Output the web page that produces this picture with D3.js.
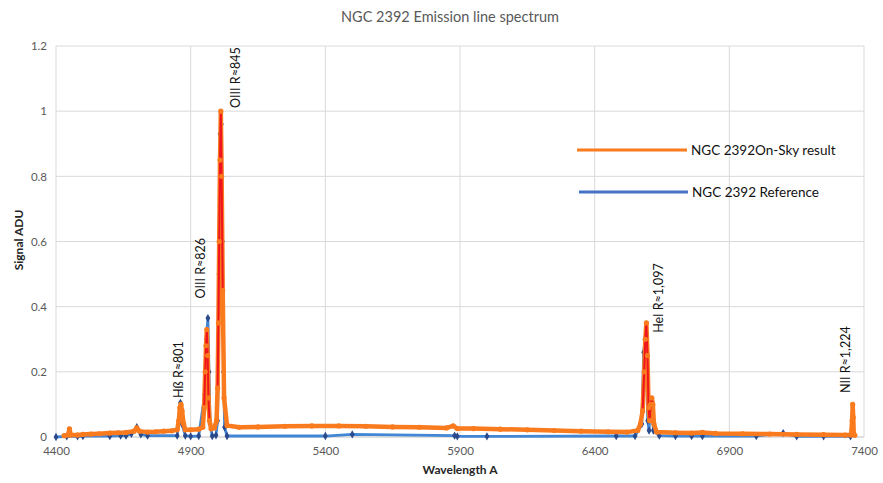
<!DOCTYPE html>
<html>
<head>
<meta charset="utf-8">
<script src="https://cdn.jsdelivr.net/npm/d3@7"></script>
<style>
  body { margin: 0; background: #fff; }
  text { font-family: Lato, "Open Sans", sans-serif; }
</style>
</head>
<body>
<div id="root"></div>
<script>
const WIDTH = 883;
const HEIGHT = 483;
const MARGIN = {top: 46, right: 19, bottom: 46, left: 56};

// On-sky result (orange)
const skyWave = [4430, 4445, 4450, 4455, 4480, 4500, 4530, 4560, 4600, 4630, 4660, 4690, 4700, 4710, 4740, 4770, 4800, 4830, 4850,
  4856, 4860, 4864, 4868, 4874, 4880, 4900, 4930, 4945, 4950, 4954, 4957, 4960, 4963, 4966, 4970, 4976, 4988, 4996, 5000, 5003,
  5006, 5009, 5012, 5015, 5019, 5024, 5035, 5080, 5150, 5250, 5350, 5450, 5550, 5650, 5750, 5850, 5875, 5890, 5950, 6050, 6150,
  6250, 6350, 6450, 6520, 6560, 6570, 6578, 6584, 6588, 6592, 6596, 6600, 6604, 6608, 6612, 6616, 6620, 6630, 6700, 6760, 6800,
  6850, 6950, 7050, 7150, 7250, 7330, 7352, 7356, 7358, 7360, 7362, 7366];
const skySignal = [0.004, 0.006, 0.025, 0.006, 0.006, 0.008, 0.009, 0.010, 0.012, 0.013, 0.014, 0.018, 0.028, 0.018, 0.015, 0.016, 0.018, 0.019, 0.022,
  0.05, 0.09, 0.1, 0.08, 0.04, 0.022, 0.022, 0.024, 0.03, 0.09, 0.2, 0.28, 0.33, 0.25, 0.12, 0.05, 0.025, 0.028, 0.05, 0.15, 0.35,
  0.6, 0.85, 1.0, 0.8, 0.45, 0.12, 0.035, 0.03, 0.031, 0.033, 0.034, 0.034, 0.033, 0.031, 0.03, 0.028, 0.034, 0.026, 0.026, 0.024, 0.022,
  0.02, 0.018, 0.016, 0.015, 0.02, 0.04, 0.08, 0.2, 0.3, 0.35, 0.25, 0.09, 0.05, 0.1, 0.12, 0.1, 0.04, 0.015, 0.013, 0.012, 0.014,
  0.011, 0.01, 0.009, 0.008, 0.007, 0.006, 0.006, 0.05, 0.1, 0.06, 0.01, 0.005];

// Reference (blue)
const refWave = [4400, 4440, 4480, 4500, 4600, 4640, 4660, 4680, 4700, 4715, 4740, 4850, 4856, 4862, 4868, 4880, 4900, 4930,
  4952, 4958, 4964, 4968, 4972, 4980, 4994, 5000, 5005, 5009, 5014, 5018, 5022, 5026, 5035, 5400, 5500, 5880, 5890, 6000,
  6480, 6550, 6575, 6582, 6587, 6592, 6597, 6602, 6607, 6612, 6618, 6640, 6700, 6760, 6800, 7000, 7100, 7150, 7250, 7350];
const refSignal = [0.0, 0.002, 0.002, 0.003, 0.003, 0.004, 0.004, 0.01, 0.03, 0.008, 0.004, 0.004, 0.05, 0.105, 0.04, 0.004, 0.002, 0.003,
  0.13, 0.3, 0.365, 0.2, 0.04, 0.003, 0.005, 0.05, 0.5, 0.93, 0.96, 0.6, 0.2, 0.03, 0.003, 0.003, 0.008, 0.004, 0.002, 0.002,
  0.003, 0.003, 0.04, 0.26, 0.3, 0.22, 0.05, 0.02, 0.1, 0.11, 0.02, 0.004, 0.003, 0.003, 0.003, 0.003, 0.012, 0.002, 0.002, 0.002];

// wavelength windows where the on-sky trace is drawn red
const redWindows = [[4948, 4972], [4998, 5022], [6576, 6616]];

const xTicks = [4400, 4900, 5400, 5900, 6400, 6900, 7400];
const yTicks = [0, 0.2, 0.4, 0.6, 0.8, 1, 1.2];

const lineLabels = [
  {text: "Hß R≈801", wave: 4858, signal: 0.12},
  {text: "OIII R≈826", wave: 4940, signal: 0.425},
  {text: "OIII R≈845", wave: 5070, signal: 1.01},
  {text: "HeI R≈1,097", wave: 6640, signal: 0.32},
  {text: "NII R≈1,224", wave: 7335, signal: 0.135}
];

const seriesNames = ["NGC 2392On-Sky result", "NGC 2392 Reference"];

const skyData = skyWave.map((w, i) => ({w, v: skySignal[i]}));
const refData = refWave.map((w, i) => ({w, v: refSignal[i]}));

const xScale = d3.scaleLinear()
    .domain([4400, 7400])
    .range([MARGIN.left, WIDTH - MARGIN.right]);

const yScale = d3.scaleLinear()
    .domain([0, 1.2])
    .range([HEIGHT - MARGIN.bottom, MARGIN.top]);

const svg = d3.select("#root")
    .append("svg")
    .attr("width", WIDTH)
    .attr("height", HEIGHT);

// title
svg.append("text")
    .attr("x", 450)
    .attr("y", 22)
    .attr("text-anchor", "middle")
    .attr("fill", "#595959")
    .style("font-size", "14.5px")
    .text("NGC 2392 Emission line spectrum");

// grid
const grid = svg.append("g");
grid.selectAll(".hgrid")
    .data(yTicks)
    .enter().append("line")
    .attr("x1", MARGIN.left)
    .attr("x2", WIDTH - MARGIN.right)
    .attr("y1", d => yScale(d))
    .attr("y2", d => yScale(d))
    .attr("stroke", d => d === 0 ? "#BFBFBF" : "#D9D9D9");
grid.selectAll(".vgrid")
    .data(xTicks)
    .enter().append("line")
    .attr("x1", d => xScale(d))
    .attr("x2", d => xScale(d))
    .attr("y1", yScale(1.2))
    .attr("y2", yScale(0))
    .attr("stroke", "#D9D9D9");

// axes
const xAxis = d3.axisBottom(xScale).tickValues(xTicks).tickSize(0).tickPadding(10).tickFormat(d3.format("d"));
svg.append("g")
    .attr("transform", `translate(0, ${yScale(0)})`)
    .call(xAxis)
    .call(g => g.select(".domain").remove())
    .selectAll("text")
    .attr("fill", "#595959")
    .style("font-family", "Lato, sans-serif")
    .style("font-size", "11.5px");

const yAxis = d3.axisLeft(yScale).tickValues(yTicks).tickSize(0).tickPadding(9).tickFormat(d => String(d));
svg.append("g")
    .attr("transform", `translate(${MARGIN.left}, 0)`)
    .call(yAxis)
    .call(g => g.select(".domain").remove())
    .selectAll("text")
    .attr("fill", "#595959")
    .style("font-family", "Lato, sans-serif")
    .style("font-size", "11.5px");

// axis titles
svg.append("text")
    .attr("x", 460)
    .attr("y", 474)
    .attr("text-anchor", "middle")
    .attr("font-weight", "bold")
    .attr("fill", "#262626")
    .style("font-size", "12px")
    .text("Wavelength A");

svg.append("text")
    .attr("transform", "translate(23, 240) rotate(-90)")
    .attr("text-anchor", "middle")
    .attr("font-weight", "bold")
    .attr("fill", "#262626")
    .style("font-size", "12px")
    .text("Signal ADU");

// series
const line = d3.line()
    .x(d => xScale(d.w))
    .y(d => yScale(d.v));

const ORANGE = "#FA7A1E";
const BLUE = "#4287D6";
const NAVY = "#2A4A8C";

// reference
svg.append("path")
    .datum(refData)
    .attr("fill", "none")
    .attr("stroke", BLUE)
    .attr("stroke-width", 2.8)
    .attr("stroke-linejoin", "round")
    .attr("d", line);

svg.selectAll(".diamond")
    .data(refData)
    .enter().append("path")
    .attr("class", "diamond")
    .attr("transform", d => `translate(${xScale(d.w)}, ${yScale(d.v)})`)
    .attr("d", d3.symbol().type(d3.symbolDiamond).size(20))
    .attr("fill", NAVY);

// on-sky
svg.append("path")
    .datum(skyData)
    .attr("fill", "none")
    .attr("stroke", ORANGE)
    .attr("stroke-width", 4.5)
    .attr("stroke-linejoin", "round")
    .attr("d", line);

const inRed = d => redWindows.some(r => d.w >= r[0] && d.w <= r[1]);
svg.append("path")
    .datum(skyData)
    .attr("fill", "none")
    .attr("stroke", "#F0141E")
    .attr("stroke-width", 2)
    .attr("d", d3.line().x(d => xScale(d.w)).y(d => yScale(d.v)).defined(inRed));

svg.selectAll(".dot")
    .data(skyData)
    .enter().append("circle")
    .attr("class", "dot")
    .attr("cx", d => xScale(d.w))
    .attr("cy", d => yScale(d.v))
    .attr("r", 2.6)
    .attr("fill", ORANGE);

// line labels
svg.selectAll(".lbl")
    .data(lineLabels)
    .enter().append("text")
    .attr("class", "lbl")
    .attr("transform", d => `translate(${xScale(d.wave) + 4}, ${yScale(d.signal)}) rotate(-90)`)
    .attr("fill", "#111")
    .style("font-size", "12.5px")
    .text(d => d.text);

// legend
const legend = svg.append("g");
const legendRows = [{name: seriesNames[0], color: ORANGE, y: 150, x1: 577, x2: 687},
                    {name: seriesNames[1], color: "#4472C4", y: 192, x1: 579, x2: 688}];
legendRows.forEach(r => {
    legend.append("line")
        .attr("x1", r.x1).attr("x2", r.x2)
        .attr("y1", r.y).attr("y2", r.y)
        .attr("stroke", r.color)
        .attr("stroke-width", 3);
    legend.append("text")
        .attr("x", r.x2 + 4)
        .attr("y", r.y + 5)
        .attr("fill", "#111")
        .style("font-size", "13.5px")
        .text(r.name);
});
</script>
</body>
</html>
